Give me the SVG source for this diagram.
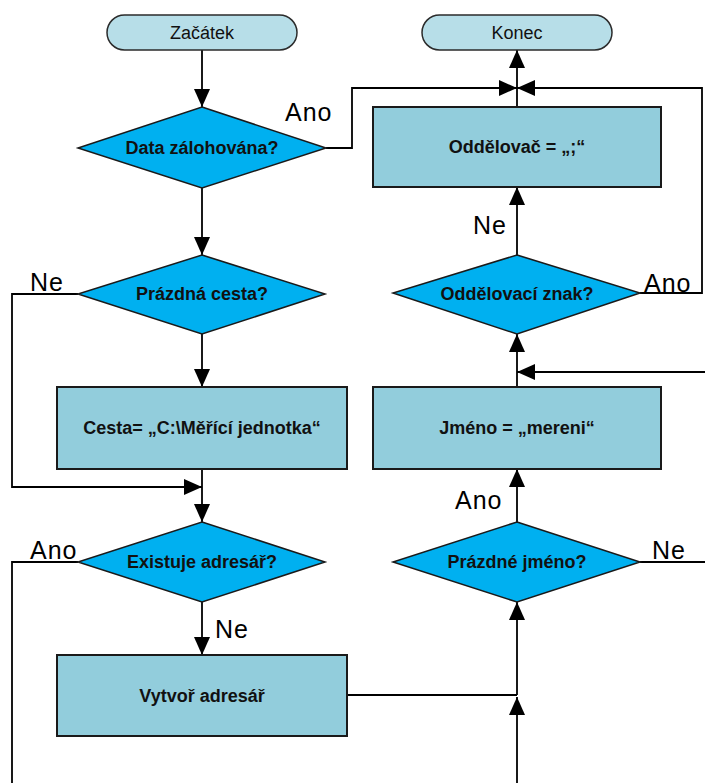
<svg xmlns="http://www.w3.org/2000/svg" width="705" height="783" viewBox="0 0 705 783">
  <style>
    .term { fill: #b7dee8; stroke: #2b2b2b; stroke-width: 1.5; }
    .dec { fill: #00b0f0; stroke: #1a1a1a; stroke-width: 1.5; }
    .proc { fill: #92cddc; stroke: #1a1a1a; stroke-width: 2; }
    .lbl { font-family: "Liberation Sans", Arial, sans-serif; font-size: 18px; font-weight: bold; fill: #111; text-anchor: middle; dominant-baseline: central; }
    .tlbl { font-family: "Liberation Sans", Arial, sans-serif; font-size: 18px; fill: #111; text-anchor: middle; dominant-baseline: central; }
    .edge { font-family: "Liberation Sans", Arial, sans-serif; font-size: 25px; fill: #000; letter-spacing: 1px; }
    .wire { fill: none; stroke: #000; stroke-width: 1.8; }
  </style>
  <defs>
    <marker id="arrow" markerUnits="userSpaceOnUse" markerWidth="18" markerHeight="16" refX="18" refY="8" orient="auto">
      <path d="M0,0 L18,8 L0,16 z" fill="#000"/>
    </marker>
  </defs>

  <rect width="705" height="783" fill="#fff"/>

  <g id="connectors">
    <path class="wire" d="M202,50 V107" marker-end="url(#arrow)"/>
    <path class="wire" d="M326,148 H352 V88 H517" marker-end="url(#arrow)"/>
    <path class="wire" d="M202,188 V255" marker-end="url(#arrow)"/>
    <path class="wire" d="M202,334 V387" marker-end="url(#arrow)"/>
    <path class="wire" d="M78,294 H12 V487 H202" marker-end="url(#arrow)"/>
    <path class="wire" d="M202,469 V522" marker-end="url(#arrow)"/>
    <path class="wire" d="M202,602 V655" marker-end="url(#arrow)"/>
    <path class="wire" d="M78,562 H12 V783"/>
    <path class="wire" d="M347,695 H517"/>
    <path class="wire" d="M517,783 V697" marker-end="url(#arrow)"/>
    <path class="wire" d="M517,695 V602" marker-end="url(#arrow)"/>
    <path class="wire" d="M640,562 H705"/>
    <path class="wire" d="M517,522 V469" marker-end="url(#arrow)"/>
    <path class="wire" d="M517,387 V334" marker-end="url(#arrow)"/>
    <path class="wire" d="M705,372 H517" marker-end="url(#arrow)"/>
    <path class="wire" d="M517,255 V187" marker-end="url(#arrow)"/>
    <path class="wire" d="M640,293 H702 V88 H517" marker-end="url(#arrow)"/>
    <path class="wire" d="M517,107 V50" marker-end="url(#arrow)"/>

    <text class="edge" x="285" y="121">Ano</text>
    <text class="edge" x="30" y="291">Ne</text>
    <text class="edge" x="30" y="559">Ano</text>
    <text class="edge" x="215" y="638">Ne</text>
    <text class="edge" x="473" y="234">Ne</text>
    <text class="edge" x="644" y="292">Ano</text>
    <text class="edge" x="455" y="509">Ano</text>
    <text class="edge" x="652" y="559">Ne</text>
  </g>

  <g id="start">
    <rect class="term" x="107" y="15" width="190" height="35" rx="17.5"/>
    <text class="tlbl" x="202" y="33">Začátek</text>
  </g>
  <g id="end">
    <rect class="term" x="422" y="15" width="190" height="35" rx="17.5"/>
    <text class="tlbl" x="517" y="33">Konec</text>
  </g>

  <g id="data-backed-up">
    <polygon class="dec" points="202,107 326,148 202,188 78,148"/>
    <text class="lbl" x="202" y="148">Data zálohována?</text>
  </g>
  <g id="empty-path">
    <polygon class="dec" points="202,255 325,294 202,334 78,294"/>
    <text class="lbl" x="202" y="294">Prázdná cesta?</text>
  </g>
  <g id="set-path">
    <rect class="proc" x="57" y="387" width="290" height="82"/>
    <text class="lbl" x="202" y="428">Cesta= „C:\Měřící jednotka“</text>
  </g>
  <g id="dir-exists">
    <polygon class="dec" points="202,522 325,562 202,602 78,562"/>
    <text class="lbl" x="202" y="562">Existuje adresář?</text>
  </g>
  <g id="create-dir">
    <rect class="proc" x="57" y="655" width="290" height="81"/>
    <text class="lbl" x="202" y="696">Vytvoř adresář</text>
  </g>

  <g id="separator-set">
    <rect class="proc" x="373" y="107" width="288" height="80"/>
    <text class="lbl" x="517" y="147">Oddělovač = „;“</text>
  </g>
  <g id="separator-char">
    <polygon class="dec" points="517,255 640,293 517,334 393,293"/>
    <text class="lbl" x="517" y="294">Oddělovací znak?</text>
  </g>
  <g id="set-name">
    <rect class="proc" x="373" y="387" width="288" height="82"/>
    <text class="lbl" x="517" y="428">Jméno = „mereni“</text>
  </g>
  <g id="empty-name">
    <polygon class="dec" points="517,522 640,562 517,602 393,562"/>
    <text class="lbl" x="517" y="562">Prázdné jméno?</text>
  </g>
</svg>
